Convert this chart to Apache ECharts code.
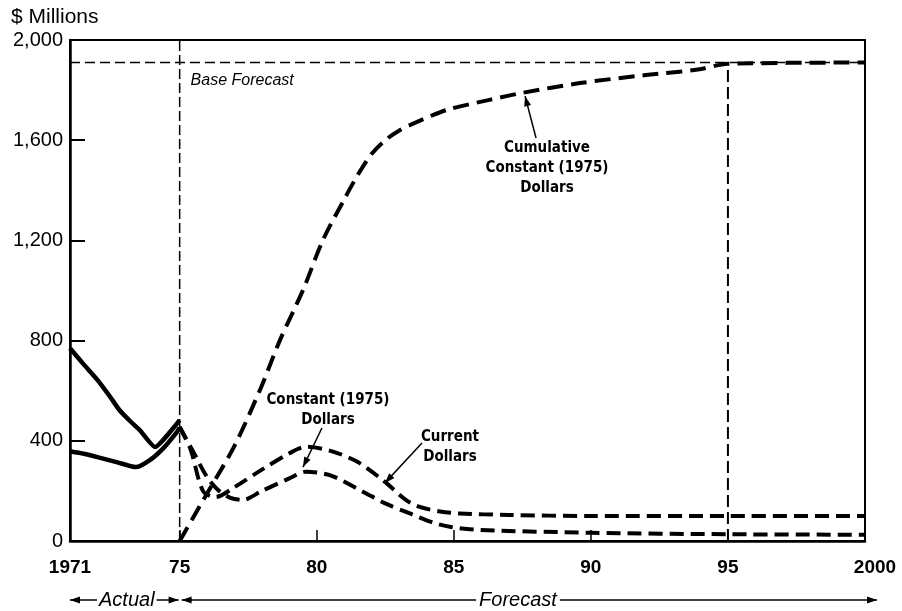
<!DOCTYPE html>
<html><head><meta charset="utf-8">
<script src="https://cdn.jsdelivr.net/npm/echarts@6/dist/echarts.min.js"></script>
<style>html,body{margin:0;padding:0;background:#fff}#c{width:902px;height:611px}</style>
</head><body><div id="c"></div>
<script>
// ---- data ----
const xTicks = [1971, 1975, 1980, 1985, 1990, 1995, 2000];
const xTickLabels = ['1971', '75', '80', '85', '90', '95', '2000'];
const yTicks = [0, 400, 800, 1200, 1600, 2000];
const yTickLabels = ['0', '400', '800', '1,200', '1,600', '2,000'];

const actualUpper = [[1971, 770], [1971.5, 705], [1972, 643], [1972.5, 570], [1972.8, 523], [1973.2, 478], [1973.55, 442], [1974.1, 375], [1975, 483]];
const actualLower = [[1971, 358], [1971.5, 348], [1972, 335], [1972.7, 315], [1973.4, 295], [1973.9, 322], [1974.4, 370], [1974.9, 435], [1975, 452]];
const currentDollars = [[1975, 455], [1975.4, 365], [1975.85, 200], [1976.3, 175], [1977, 215], [1978, 285], [1979, 350], [1979.6, 376], [1980.5, 360], [1981.5, 315], [1982.5, 235], [1983.2, 168], [1983.7, 138], [1984.5, 118], [1985.2, 110], [1987, 104], [1990, 100], [1995, 100], [2000, 100]];
const constantDollars = [[1975, 455], [1975.5, 355], [1976, 255], [1976.4, 204], [1976.85, 172], [1977.3, 164], [1978, 200], [1979, 250], [1979.6, 276], [1980.5, 262], [1981.7, 196], [1982.5, 150], [1983.4, 110], [1984.2, 75], [1984.9, 56], [1986, 44], [1990, 33], [1995, 27], [2000, 25]];
const cumulativeConstant = [[1975, 0], [1976, 190], [1977, 380], [1977.93, 603], [1978.66, 802], [1979.5, 1002], [1980.23, 1202], [1980.96, 1355], [1981.5, 1462], [1982.0, 1545], [1982.5, 1600], [1983.0, 1638], [1983.6, 1670], [1984.75, 1721], [1986.3, 1761], [1987.5, 1789], [1989.6, 1828], [1992, 1860], [1993.9, 1882], [1995, 1905], [2000, 1910]];
const baseForecastLine = [[1971, 1910], [2000, 1910]];
const actualForecastDivider = [[1975, 0], [1975, 2000]];
const baseReachedDivider = [[1995, 0], [1995, 1910]];

// annotations: text anchor, arrow tail, arrow tip (data coordinates)
const annoCumulative = { text: 'Cumulative\nConstant (1975)\nDollars', at: [1988.4, 1489], tail: [1988.0, 1609], tip: [1987.6, 1776] };
const annoConstant = { text: 'Constant (1975)\nDollars', at: [1980.41, 523], tail: [1980.19, 451], tip: [1979.5, 295] };
const annoCurrent = { text: 'Current\nDollars', at: [1984.86, 375], tail: [1983.84, 391], tip: [1982.49, 232] };
const annoBase = { text: 'Base Forecast', at: [1975.4, 1840] };

const NARROW = '"Liberation Sans Narrow", "DejaVu Sans Condensed", "Liberation Sans", sans-serif';
const SANS = '"Liberation Sans", Arial, sans-serif';

const chart = echarts.init(document.getElementById('c'), null, { renderer: 'canvas' });

function lineSeries(name, data, width, type, smooth, z) {
  return {
    name, type: 'line', data, symbol: 'none', smooth: smooth,
    lineStyle: { color: '#000', width: width, type: type, cap: 'butt', join: 'round' },
    silent: true, z: z || 2, clip: false
  };
}

chart.setOption({
  animation: false,
  backgroundColor: '#fff',
  grid: { left: 70, right: 37, top: 40, bottom: 70, show: true, borderColor: '#000', borderWidth: 2, backgroundColor: 'transparent' },
  xAxis: {
    type: 'value', min: 1971, max: 2000,
    axisLine: { show: true, lineStyle: { color: '#000', width: 2.5 } },
    axisTick: { show: true, inside: true, length: 11, customValues: xTicks, lineStyle: { color: '#000', width: 1.5 } },
    axisLabel: {
      customValues: xTicks, margin: 17, color: '#000', fontFamily: SANS, fontSize: 19, fontWeight: 'bold',
      formatter: function (v) {
        const i = xTicks.indexOf(Math.round(v));
        if (i < 0) return '';
        if (xTickLabels[i] === '2000') return '{r|2000}';
        return xTickLabels[i];
      },
      rich: { r: { padding: [0, 0, 0, 20], fontFamily: SANS, fontSize: 19, fontWeight: 'bold', color: '#000' } }
    },
    splitLine: { show: false }
  },
  yAxis: {
    type: 'value', min: 0, max: 2000, interval: 400,
    axisLine: { show: true, lineStyle: { color: '#000', width: 2.5 } },
    axisTick: { show: true, inside: true, length: 15, lineStyle: { color: '#000', width: 2 } },
    axisLabel: {
      margin: 7, color: '#000', fontFamily: SANS, fontSize: 20,
      formatter: function (v) { const i = yTicks.indexOf(v); return i < 0 ? '' : yTickLabels[i]; }
    },
    splitLine: { show: false }
  },
  series: [
    lineSeries('Actual (upper)', actualUpper, 4.5, 'solid', 0.15, 3),
    lineSeries('Actual (lower)', actualLower, 4.5, 'solid', 0.2, 3),
    lineSeries('Current Dollars', currentDollars, 4, [14, 7], 0.3, 3),
    lineSeries('Constant (1975) Dollars', constantDollars, 4, [14, 7], 0.3, 3),
    lineSeries('Cumulative Constant (1975) Dollars', cumulativeConstant, 4, [16, 8], 0.3, 3),
    lineSeries('Base Forecast', baseForecastLine, 1.5, [10, 5], false, 2),
    lineSeries('Actual/Forecast', actualForecastDivider, 1.5, [10, 4], false, 2),
    lineSeries('1995', baseReachedDivider, 2, [12, 5], false, 2)
  ]
});

// ---- annotations (positioned through the chart's own scales) ----
function px(p) { return chart.convertToPixel({ xAxisIndex: 0, yAxisIndex: 0 }, p); }

function arrowHead(tip, from, len, half) {
  const dx = tip[0] - from[0], dy = tip[1] - from[1];
  const d = Math.sqrt(dx * dx + dy * dy) || 1;
  const ux = dx / d, uy = dy / d;
  const bx = tip[0] - ux * len, by = tip[1] - uy * len;
  return {
    type: 'polygon', silent: true, z: 10,
    shape: { points: [tip, [bx - uy * half, by + ux * half], [bx + uy * half, by - ux * half]] },
    style: { fill: '#000' }
  };
}
function arrow(a, b, w) {
  return [
    { type: 'line', silent: true, z: 10, shape: { x1: a[0], y1: a[1], x2: b[0], y2: b[1] }, style: { stroke: '#000', lineWidth: w || 1.5 } },
    arrowHead(b, a, 10, 3.5)
  ];
}
function label(text, p, opts) {
  return {
    type: 'text', silent: true, z: 11, x: p[0], y: p[1],
    style: Object.assign({ text: text, fill: '#000', font: 'bold 15px ' + NARROW, align: 'center', verticalAlign: 'middle', lineHeight: 20 }, opts || {})
  };
}

const els = [];
[annoCumulative, annoConstant, annoCurrent].forEach(function (a) {
  els.push(label(a.text, px(a.at)));
  arrow(px(a.tail), px(a.tip)).forEach(function (e) { els.push(e); });
});
els.push(label(annoBase.text, px(annoBase.at), { align: 'left', font: 'italic 16px ' + SANS }));

// $ Millions title
els.push({ type: 'text', silent: true, x: 11, y: 17, style: { text: '$ Millions', fill: '#000', font: '21px ' + SANS, verticalAlign: 'middle' } });

// bottom Actual / Forecast arrows
const yB = 600;
const x71 = px([1971, 0])[0], x75 = px([1975, 0])[0], x00 = px([2000, 0])[0];
function hArrow(xa, xb) {
  return [
    { type: 'line', silent: true, z: 9, shape: { x1: xa, y1: yB, x2: xb, y2: yB }, style: { stroke: '#000', lineWidth: 1.3 } },
    arrowHead([xa, yB], [xb, yB], 10, 3.5),
    arrowHead([xb, yB], [xa, yB], 10, 3.5)
  ];
}
hArrow(x71, x75 - 1).forEach(function (e) { els.push(e); });
hArrow(x75 + 2, x00 + 12).forEach(function (e) { els.push(e); });
els.push(label('Actual', [(x71 + x75) / 2 + 2, yB], { font: 'italic 20px ' + SANS, backgroundColor: '#fff', padding: [0, 2] }));
els.push(label('Forecast', [518, yB], { font: 'italic 20px ' + SANS, backgroundColor: '#fff', padding: [0, 3] }));

chart.setOption({ graphic: { elements: els } });
</script>
</body></html>
